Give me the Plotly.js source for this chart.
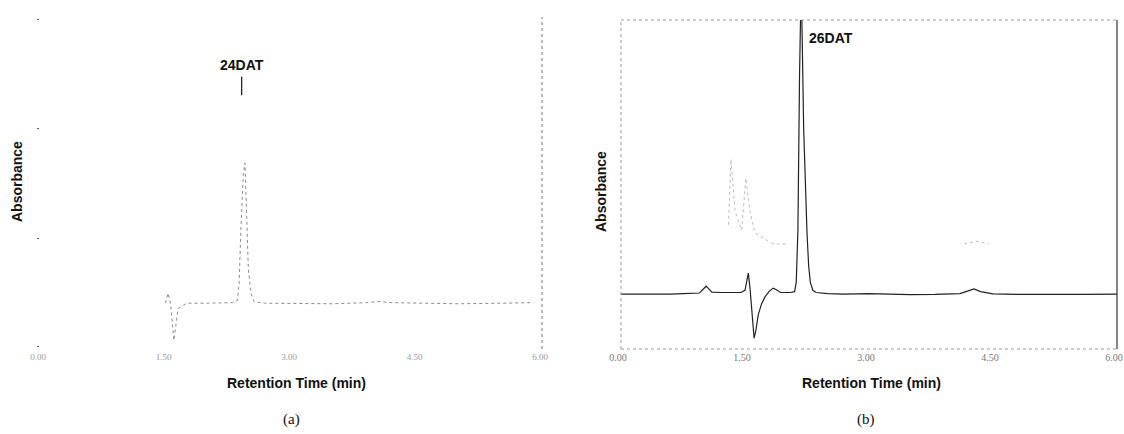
<!DOCTYPE html>
<html>
<head>
<meta charset="utf-8">
<script src="https://cdn.plot.ly/plotly-3.0.1.min.js"></script>
<style>html,body{margin:0;padding:0;background:#fff;}#chart{width:1124px;height:434px;}</style>
</head>
<body>
<div id="chart"></div>
<script>
// ---- Data ----
const tickVals = [0, 1.5, 3, 4.5, 6];
const tickTextA = ["0.00", "1.50", "3.00", "4.50", "6.00"];
const tickTextB = ["0.00", "1.50", "3.00", "4.50", "6.00"];
const yTicksA = [-0.152, 0.225, 0.61, 0.99];

// (a) 24DAT chromatogram
const timeA = [1.50, 1.53, 1.56, 1.60, 1.65, 1.75, 2.00, 2.30, 2.36, 2.38, 2.40, 2.43, 2.45, 2.47, 2.49, 2.52, 2.56, 2.70, 3.00, 3.50, 3.90, 4.05, 4.20, 4.60, 5.00, 5.50, 5.90];
const absA  = [0.0, 0.035, 0.0, -0.13, -0.02, 0.0, 0.0, 0.002, 0.01, 0.07, 0.25, 0.45, 0.49, 0.30, 0.12, 0.035, 0.005, 0.0, 0.0, -0.002, 0.002, 0.006, 0.002, 0.0, -0.002, 0.0, 0.002];

// (b) 26DAT chromatogram
const timeB = [0.00, 0.20, 0.45, 0.60, 0.75, 0.95, 1.03, 1.10, 1.20, 1.30, 1.45, 1.50, 1.54, 1.56, 1.59, 1.61, 1.63, 1.66, 1.70, 1.74, 1.79, 1.84, 1.88, 1.93, 2.05, 2.10, 2.12, 2.14, 2.16, 2.18, 2.21, 2.23, 2.25, 2.27, 2.29, 2.32, 2.36, 2.50, 2.70, 3.00, 3.20, 3.50, 3.80, 4.10, 4.20, 4.27, 4.35, 4.50, 4.80, 5.20, 5.60, 6.00];
const absB  = [-0.004, -0.004, -0.005, -0.004, -0.002, 0.0, 0.025, 0.003, 0.002, 0.002, 0.002, 0.010, 0.073, 0.02, -0.10, -0.165, -0.14, -0.08, -0.04, -0.015, 0.005, 0.018, 0.012, 0.002, 0.002, 0.005, 0.04, 0.23, 0.80, 1.15, 0.60, 0.40, 0.22, 0.10, 0.04, 0.01, 0.002, -0.002, -0.004, -0.002, -0.004, -0.006, -0.005, -0.002, 0.008, 0.015, 0.005, -0.003, -0.005, -0.006, -0.005, -0.004];

// faint ghost trace visible in (b)
const timeGhost = [1.30, 1.33, 1.38, 1.46, 1.51, 1.56, 1.62, 1.84, 2.00, null, 4.15, 4.30, 4.45];
const absGhost  = [0.25, 0.49, 0.30, 0.23, 0.42, 0.30, 0.22, 0.18, 0.18, null, 0.18, 0.19, 0.18];

const peakA = {label: "24DAT", time: 2.41, abs: 0.727};
const peakB = {label: "26DAT", time: 2.18};

// ---- Plot ----
const boldFont = {family: "Liberation Sans, Arial, sans-serif", size: 14, color: "#111", weight: "bold"};
const serifFont = {family: "Liberation Serif, Times New Roman, serif", size: 15, color: "#111"};

const traces = [
  {x: timeA, y: absA, xaxis: "x", yaxis: "y", type: "scatter", mode: "lines",
   line: {color: "#8a8a8a", width: 1, dash: "dot"}, hoverinfo: "skip"},
  {x: timeGhost, y: absGhost, xaxis: "x2", yaxis: "y2", type: "scatter", mode: "lines",
   connectgaps: false, line: {color: "#bdbdbd", width: 1, dash: "dot"}, hoverinfo: "skip"},
  {x: timeB, y: absB, xaxis: "x2", yaxis: "y2", type: "scatter", mode: "lines",
   line: {color: "#222", width: 1.2}, hoverinfo: "skip"}
];

const xCommon = {range: [0, 6], tickvals: tickVals, showgrid: false, zeroline: false,
  showline: false, ticks: "", fixedrange: true, ticklabeloverflow: "allow", ticklabelstandoff: 1};

function note(text, x, y, font, extra) {
  return Object.assign({text: text, xref: "paper", yref: "paper", x: x / 1124, y: 1 - y / 434,
    xanchor: "center", yanchor: "middle", showarrow: false, font: font}, extra || {});
}

const layout = {
  width: 1124, height: 434,
  margin: {l: 0, r: 0, t: 0, b: 0},
  paper_bgcolor: "#fff", plot_bgcolor: "#fff",
  showlegend: false,
  xaxis: Object.assign({}, xCommon, {domain: [0.03559, 0.48221], anchor: "y",
    ticktext: tickTextA, ticklabelshift: -2,
    tickfont: {family: "Liberation Serif, serif", size: 9, color: "#999"}}),
  yaxis: {domain: [0.19585, 0.96083], range: [-0.16, 1.0], anchor: "x",
    showgrid: false, zeroline: false, showline: false, showticklabels: false,
    tickvals: yTicksA, ticks: "outside", ticklen: 2, tickcolor: "#555", fixedrange: true},
  xaxis2: Object.assign({}, xCommon, {domain: [0.55249, 0.99377], anchor: "y2",
    ticktext: tickTextB, ticklabelshift: -3,
    tickfont: {family: "Liberation Serif, serif", size: 10, color: "#777"}}),
  yaxis2: {domain: [0.19585, 0.95392], range: [-0.205, 1.0], anchor: "x2",
    showgrid: false, zeroline: false, showline: false, showticklabels: false, ticks: "", fixedrange: true},
  shapes: [
    // (a) right border (dashed)
    {type: "line", xref: "x domain", yref: "y domain", x0: 1, x1: 1, y0: 0, y1: 1,
     line: {color: "#777", width: 1, dash: "dot"}},
    // (b) frame
    {type: "line", xref: "x2 domain", yref: "y2 domain", x0: 0, x1: 1, y0: 1, y1: 1,
     line: {color: "#999", width: 1, dash: "dot"}},
    {type: "line", xref: "x2 domain", yref: "y2 domain", x0: 0, x1: 1, y0: 0, y1: 0,
     line: {color: "#999", width: 1, dash: "dot"}},
    {type: "line", xref: "x2 domain", yref: "y2 domain", x0: 0, x1: 0, y0: 0, y1: 1,
     line: {color: "#999", width: 1, dash: "dot"}},
    {type: "line", xref: "x2 domain", yref: "y2 domain", x0: 1, x1: 1, y0: 0, y1: 1,
     line: {color: "#333", width: 1.2}}
  ],
  annotations: [
    {text: peakA.label, xref: "x", yref: "y", x: peakA.time, y: peakA.abs,
     showarrow: true, arrowhead: 0, arrowwidth: 1.3, arrowcolor: "#222",
     ax: 0, ay: -30, startstandoff: 2, font: boldFont},
    {text: peakB.label, xref: "x2", yref: "paper", x: peakB.time, y: 1 - 38/434,
     xanchor: "left", yanchor: "middle", xshift: 6, showarrow: false, font: boldFont},
    note("Absorbance", 17, 182, boldFont, {textangle: -90}),
    note("Absorbance", 601, 192, boldFont, {textangle: -90}),
    note("Retention Time (min)", 296, 383, boldFont),
    note("Retention Time (min)", 871, 383, boldFont),
    note("(a)", 291, 419, serifFont),
    note("(b)", 866, 419, serifFont)
  ]
};

Plotly.newPlot("chart", traces, layout, {staticPlot: true, displayModeBar: false});
</script>
</body>
</html>
